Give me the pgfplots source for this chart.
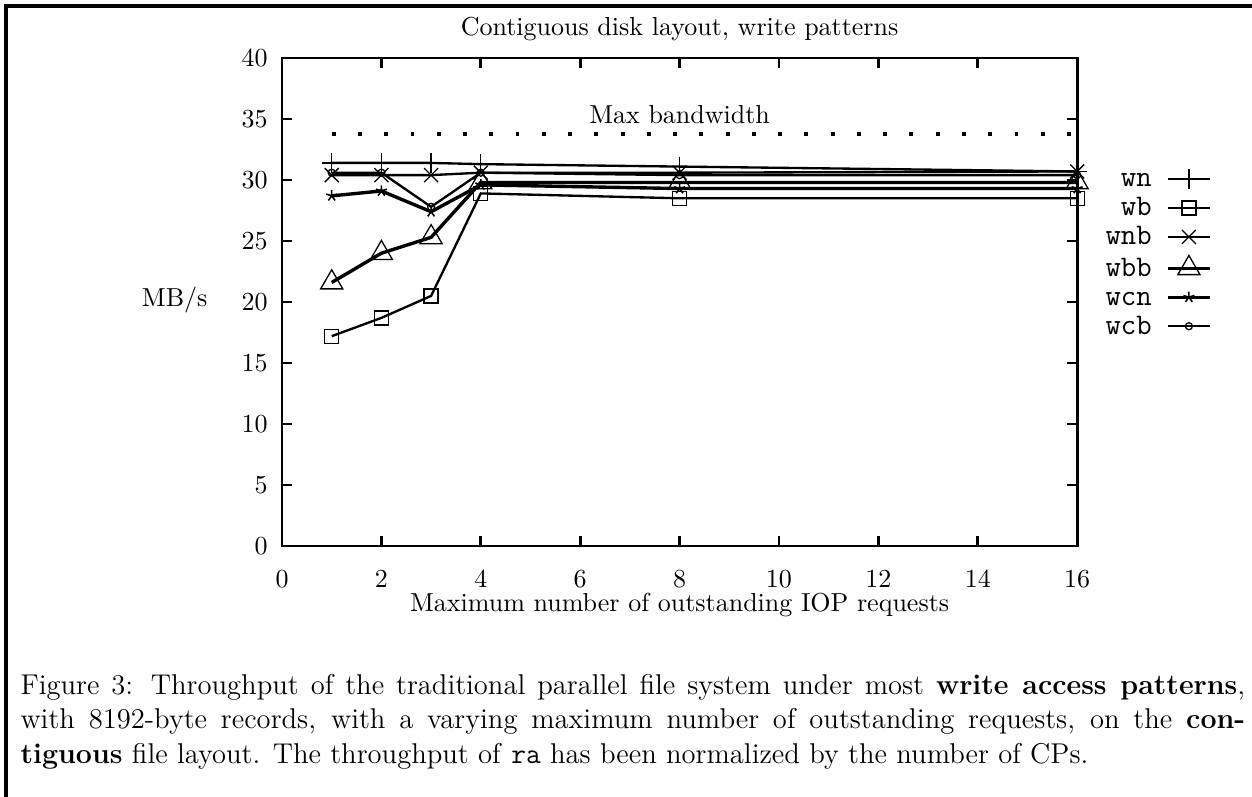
\documentclass[border=0pt]{standalone}
\usepackage{pgfplots}
\pgfplotsset{compat=1.18}
\begin{document}
\begin{tikzpicture}
\begin{scope}[x=0.3846pt,y=-0.3846pt]
\draw[line width=1.3pt] (6,797) -- (6,6) -- (1252,6);
\node[anchor=base west,inner sep=0pt] at (20,694) {\parbox[t]{471pt}{\fontsize{11}{13.3}\selectfont
\makebox[471pt][s]{Figure 3: Throughput of the traditional parallel file system under most \textbf{write access patterns},}\\
\makebox[471pt][s]{with 8192-byte records, with a varying maximum number of outstanding requests, on the \textbf{con-}}\\
\textbf{tiguous} file layout. The throughput of \texttt{ra} has been normalized by the number of CPs.}};
\end{scope}
\begin{axis}[
  at={(108.46pt,-210.0pt)}, anchor=south west,
  width=305.8pt, height=187.7pt, scale only axis,
  xmin=0, xmax=16, ymin=0, ymax=40,
  xtick={0,2,...,16}, ytick={0,5,...,40},
  tick align=inside, major tick length=4pt,
  axis line style={line width=1.1pt},
  every tick/.style={line width=1.1pt, black},
  yticklabel style={xshift=-2pt},
  xticklabel style={yshift=-6pt},
  title={Contiguous disk layout, write patterns},
  title style={yshift=-3pt},
  xlabel={Maximum number of outstanding IOP requests},
  xlabel style={at={(axis description cs:0.5,-0.121)}, anchor=center},
  ylabel={MB/s},
  ylabel style={rotate=-90, at={(axis description cs:-0.135,0.504)}, anchor=center},
  clip=false,
  legend plot pos=right, legend cell align=right,
  legend style={at={(axis description cs:1.1698,0.7746)}, anchor=north east, draw=none, fill=none,
    font=\fontsize{11.5}{13}\ttfamily, inner sep=0pt, row sep=3.15pt,
    nodes={text height=7pt, text depth=1pt, inner sep=0pt}},
  legend image code/.code={\path[draw=none] (0pt,-0.5pt) rectangle (1pt,0.5pt); \draw[mark repeat=2,mark phase=2] plot coordinates {(6.2pt,0pt)(14.3pt,0pt)(22.4pt,0pt)};},
]
\addplot[black, line width=0.9pt, mark=+, mark size=3.8pt, mark options={line width=0.5pt}] coordinates {(1,31.4)(2,31.4)(3,31.4)(4,31.3)(8,31.1)(16,30.7)};
\addlegendentry{wn}
\addplot[black, line width=0.9pt, mark=square, mark size=2.7pt, mark options={line width=0.5pt}] coordinates {(1,17.2)(2,18.7)(3,20.5)(4,28.9)(8,28.5)(16,28.5)};
\addlegendentry{wb}
\addplot[black, line width=0.9pt, mark=x, mark size=3.8pt, mark options={line width=0.5pt}] coordinates {(1,30.4)(2,30.4)(3,30.4)(4,30.6)(8,30.6)(16,30.7)};
\addlegendentry{wnb}
\addplot[black, line width=1.3pt, mark=triangle, mark size=4.9pt, mark options={line width=0.5pt}] coordinates {(1,21.6)(2,24.0)(3,25.3)(4,29.8)(8,29.8)(16,29.8)};
\addlegendentry{wbb}
\addplot[black, line width=1.3pt, mark=star, mark size=2.2pt, mark options={line width=0.6pt}] coordinates {(1,28.7)(2,29.1)(3,27.4)(4,29.6)(8,29.3)(16,29.3)};
\addlegendentry{wcn}
\addplot[black, line width=0.9pt, mark=o, mark size=1.35pt, mark options={line width=0.5pt}] coordinates {(1,30.6)(2,30.6)(3,27.8)(4,30.6)(8,30.4)(16,30.4)};
\addlegendentry{wcb}
\addplot[black, line width=1.5pt, dash pattern=on 1.5pt off 8.6pt, forget plot] coordinates {(1,33.8)(16,33.8)};
\node[anchor=base] at (axis cs:8,34.6) {Max bandwidth};
\end{axis}
\pgfresetboundingbox
\useasboundingbox (0pt,0pt) rectangle (481.5pt,-306.5pt);
\end{tikzpicture}
\end{document}
